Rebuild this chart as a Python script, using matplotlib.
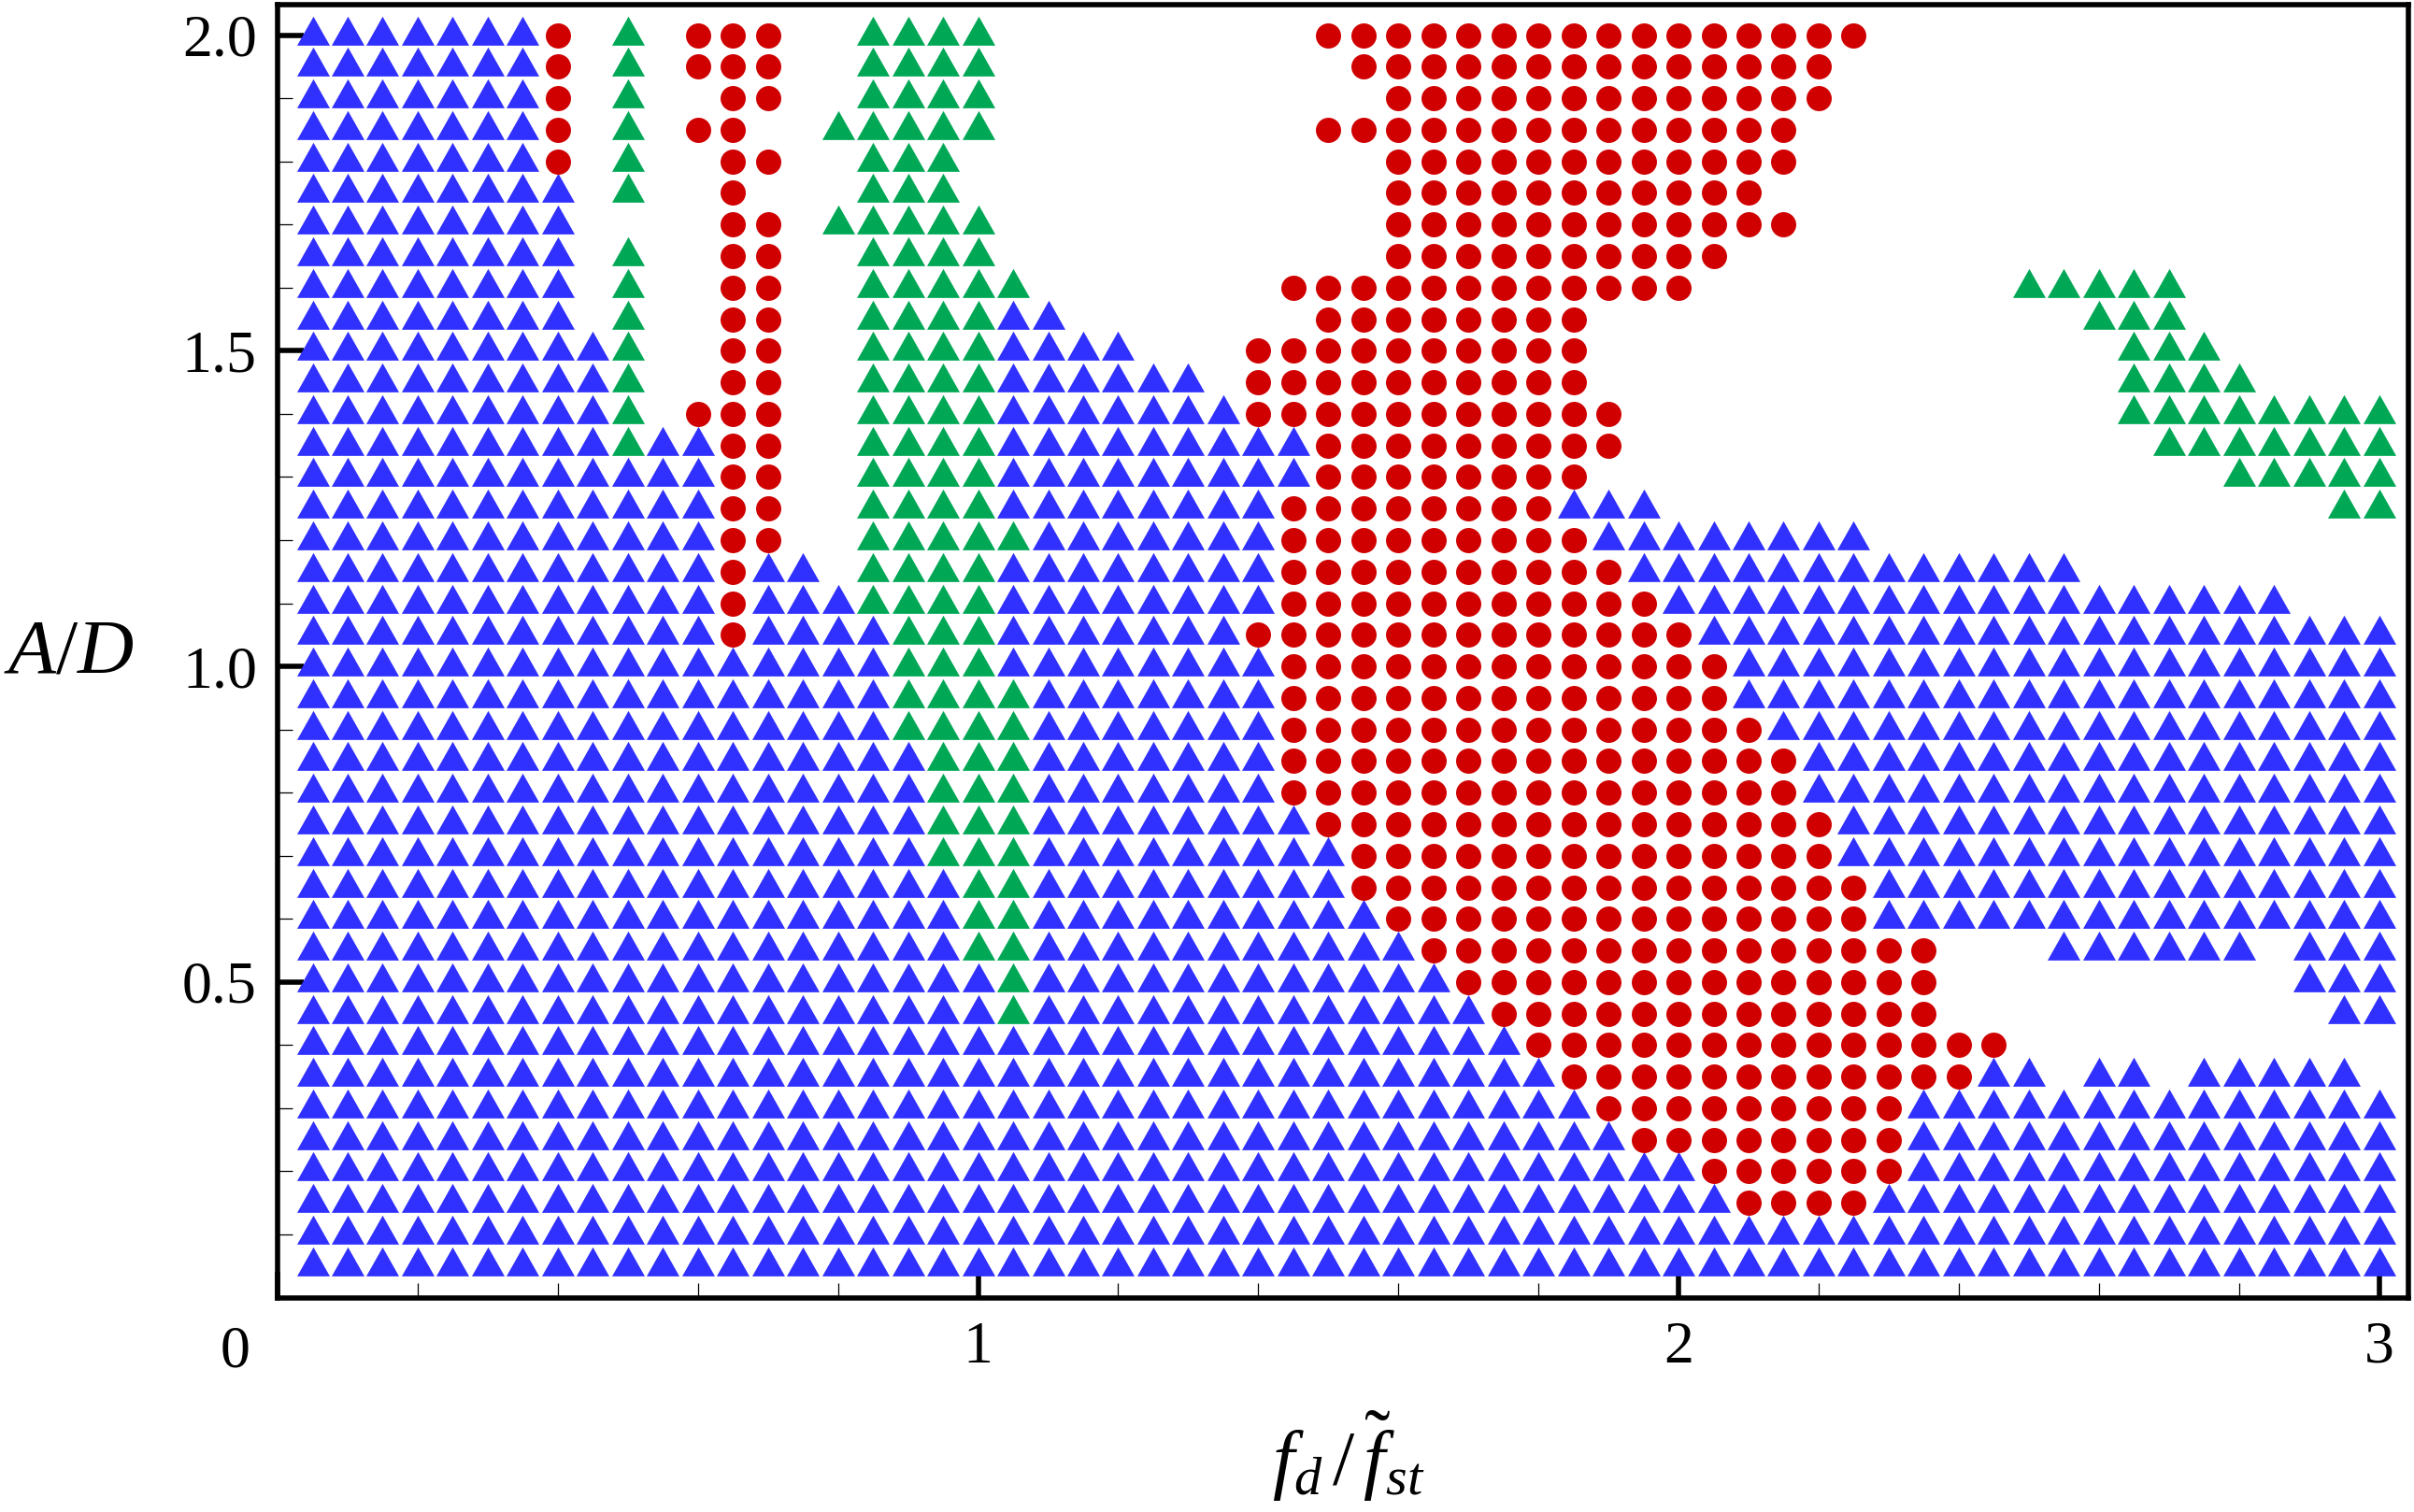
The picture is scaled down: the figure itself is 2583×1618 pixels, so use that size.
import numpy as np
import matplotlib.pyplot as plt
from matplotlib.ticker import FixedLocator, MultipleLocator

plt.rcParams['font.family'] = 'Liberation Serif'
plt.rcParams['mathtext.fontset'] = 'custom'
plt.rcParams['mathtext.rm'] = 'Liberation Serif'
plt.rcParams['mathtext.it'] = 'Liberation Serif:italic'

# sweep grid: forcing frequency ratio along x, amplitude along y
fd_vals = np.round(np.arange(1, 61) * 0.05, 2)        # 0.05 ... 3.00
ad_vals = np.round(np.arange(40, 0, -1) * 0.05, 2)    # 2.00 ... 0.05 (top row first)

# one string per A/D row, columns in groups of ten
# b = blue triangle, g = green triangle, r = red circle, . = no point
rows = [
    "bbbbbbbr.g .rrr..gggg .........r rrrrrrrrrr rrrrr..... ..........",  # 2.00
    "bbbbbbbr.g .rrr..gggg .......... rrrrrrrrrr rrrr...... ..........",  # 1.95
    "bbbbbbbr.g ..rr..gggg .......... .rrrrrrrrr rrrr...... ..........",  # 1.90
    "bbbbbbbr.g .rr..ggggg .........r rrrrrrrrrr rrr....... ..........",  # 1.85
    "bbbbbbbr.g ..rr..ggg. .......... .rrrrrrrrr rrr....... ..........",  # 1.80
    "bbbbbbbb.g ..r...ggg. .......... .rrrrrrrrr rr........ ..........",  # 1.75
    "bbbbbbbb.. ..rr.ggggg .......... .rrrrrrrrr rrr....... ..........",  # 1.70
    "bbbbbbbb.g ..rr..gggg .......... .rrrrrrrrr r......... ..........",  # 1.65
    "bbbbbbbb.g ..rr..gggg g.......rr rrrrrrrrrr .........g gggg......",  # 1.60
    "bbbbbbbb.g ..rr..gggg bb.......r rrrrrrr... .......... .ggg......",  # 1.55
    "bbbbbbbbbg ..rr..gggg bbbb...rrr rrrrrrr... .......... ..ggg.....",  # 1.50
    "bbbbbbbbbg ..rr..gggg bbbbbb.rrr rrrrrrr... .......... ..gggg....",  # 1.45
    "bbbbbbbbbg .rrr..gggg bbbbbbbrrr rrrrrrrr.. .......... ..gggggggg",  # 1.40
    "bbbbbbbbbg bbrr..gggg bbbbbbbbbr rrrrrrrr.. .......... ...ggggggg",  # 1.35
    "bbbbbbbbbb bbrr..gggg bbbbbbbbbr rrrrrrr... .......... .....ggggg",  # 1.30
    "bbbbbbbbbb bbrr..gggg bbbbbbbbrr rrrrrrbbb. .......... ........gg",  # 1.25
    "bbbbbbbbbb bbrr..gggg gbbbbbbbrr rrrrrrrbbb bbbbb..... ..........",  # 1.20
    "bbbbbbbbbb bbrbb.gggg bbbbbbbbrr rrrrrrrrbb bbbbbbbbbb b.........",  # 1.15
    "bbbbbbbbbb bbrbbbgggg bbbbbbbbrr rrrrrrrrrb bbbbbbbbbb bbbbbbb...",  # 1.10
    "bbbbbbbbbb bbrbbbbggg bbbbbbbrrr rrrrrrrrrr bbbbbbbbbb bbbbbbbbbb",  # 1.05
    "bbbbbbbbbb bbbbbbbggg bbbbbbbbrr rrrrrrrrrr rbbbbbbbbb bbbbbbbbbb",  # 1.00
    "bbbbbbbbbb bbbbbbbggg gbbbbbbbrr rrrrrrrrrr rbbbbbbbbb bbbbbbbbbb",  # 0.95
    "bbbbbbbbbb bbbbbbbggg gbbbbbbbrr rrrrrrrrrr rrbbbbbbbb bbbbbbbbbb",  # 0.90
    "bbbbbbbbbb bbbbbbbbgg gbbbbbbbrr rrrrrrrrrr rrrbbbbbbb bbbbbbbbbb",  # 0.85
    "bbbbbbbbbb bbbbbbbbgg gbbbbbbbrr rrrrrrrrrr rrrbbbbbbb bbbbbbbbbb",  # 0.80
    "bbbbbbbbbb bbbbbbbbgg gbbbbbbbbr rrrrrrrrrr rrrrbbbbbb bbbbbbbbbb",  # 0.75
    "bbbbbbbbbb bbbbbbbbgg gbbbbbbbbb rrrrrrrrrr rrrrbbbbbb bbbbbbbbbb",  # 0.70
    "bbbbbbbbbb bbbbbbbbbg gbbbbbbbbb rrrrrrrrrr rrrrrbbbbb bbbbbbbbbb",  # 0.65
    "bbbbbbbbbb bbbbbbbbbg gbbbbbbbbb brrrrrrrrr rrrrrbbbbb bbbbbbbbbb",  # 0.60
    "bbbbbbbbbb bbbbbbbbbg gbbbbbbbbb bbrrrrrrrr rrrrrrr... bbbbbb.bbb",  # 0.55
    "bbbbbbbbbb bbbbbbbbbb gbbbbbbbbb bbbrrrrrrr rrrrrrr... .......bbb",  # 0.50
    "bbbbbbbbbb bbbbbbbbbb gbbbbbbbbb bbbbrrrrrr rrrrrrr... ........bb",  # 0.45
    "bbbbbbbbbb bbbbbbbbbb bbbbbbbbbb bbbbbrrrrr rrrrrrrrr. ..........",  # 0.40
    "bbbbbbbbbb bbbbbbbbbb bbbbbbbbbb bbbbbbrrrr rrrrrrrrbb .bb.bbbbb.",  # 0.35
    "bbbbbbbbbb bbbbbbbbbb bbbbbbbbbb bbbbbbbrrr rrrrrrbbbb bbbbbbbbbb",  # 0.30
    "bbbbbbbbbb bbbbbbbbbb bbbbbbbbbb bbbbbbbbrr rrrrrrbbbb bbbbbbbbbb",  # 0.25
    "bbbbbbbbbb bbbbbbbbbb bbbbbbbbbb bbbbbbbbbb rrrrrrbbbb bbbbbbbbbb",  # 0.20
    "bbbbbbbbbb bbbbbbbbbb bbbbbbbbbb bbbbbbbbbb brrrrbbbbb bbbbbbbbbb",  # 0.15
    "bbbbbbbbbb bbbbbbbbbb bbbbbbbbbb bbbbbbbbbb bbbbbbbbbb bbbbbbbbbb",  # 0.10
    "bbbbbbbbbb bbbbbbbbbb bbbbbbbbbb bbbbbbbbbb bbbbbbbbbb bbbbbbbbbb",  # 0.05
]

x_ticks = [0, 1, 2, 3]
y_ticks = [0.5, 1.0, 1.5, 2.0]
y_tick_labels = ["0.5", "1.0", "1.5", "2.0"]

grid = np.array([list(r.replace(" ", "")) for r in rows])
X, Y = np.meshgrid(fd_vals, ad_vals)

# triangle with its centroid on the data point (like the original plot)
tri = [(-17.5, -10.33), (17.5, -10.33), (0.0, 20.67)]
styles = {
    "b": dict(color="#3030FF", marker=tri, ms=14.9),
    "g": dict(color="#00A856", marker=tri, ms=14.9),
    "r": dict(color="#D00000", marker="o", ms=9.7),
}

fig = plt.figure(figsize=(12.915, 8.09), dpi=200)
ax = fig.add_axes([0.115, 0.1418, 0.8827, 0.8554])

for key, st in styles.items():
    mask = grid == key
    ax.plot(X[mask], Y[mask], linestyle="none", marker=st["marker"],
            ms=st["ms"], color=st["color"], markeredgewidth=0)

ax.set_xlim(0, 3.042)
ax.set_ylim(0, 2.049)

for sp in ax.spines.values():
    sp.set_linewidth(2.0)

ax.xaxis.set_major_locator(FixedLocator(x_ticks))
ax.xaxis.set_minor_locator(MultipleLocator(0.2))
ax.set_xticklabels(["", "1", "2", "3"])
ax.yaxis.set_major_locator(FixedLocator(y_ticks))
ax.yaxis.set_minor_locator(MultipleLocator(0.1))
ax.set_yticklabels(y_tick_labels)

ax.tick_params(which="major", direction="in", length=10, width=2,
               labelsize=23, top=False, right=False)
ax.tick_params(which="minor", direction="in", length=5.8, width=0.45,
               top=False, right=False)
ax.tick_params(axis="x", which="major", pad=9)
ax.tick_params(axis="y", which="major", pad=8)

# origin label sits off to the left of the frame corner
ax.text(-0.061, -0.0213, "0", transform=ax.get_xaxis_transform(),
        ha="center", va="top", fontsize=23)

ax.set_xlabel(r"$f_{d}\,/\,\tilde{f}_{st}$", fontsize=30, va="center")
ax.xaxis.set_label_coords(0.5026, -0.1225)
ax.set_ylabel(r"$A/D$", fontsize=30, rotation=0, ha="center", va="center")
ax.yaxis.set_label_coords(-0.0978, 0.4975)

fig.savefig("out.png", dpi=200)
